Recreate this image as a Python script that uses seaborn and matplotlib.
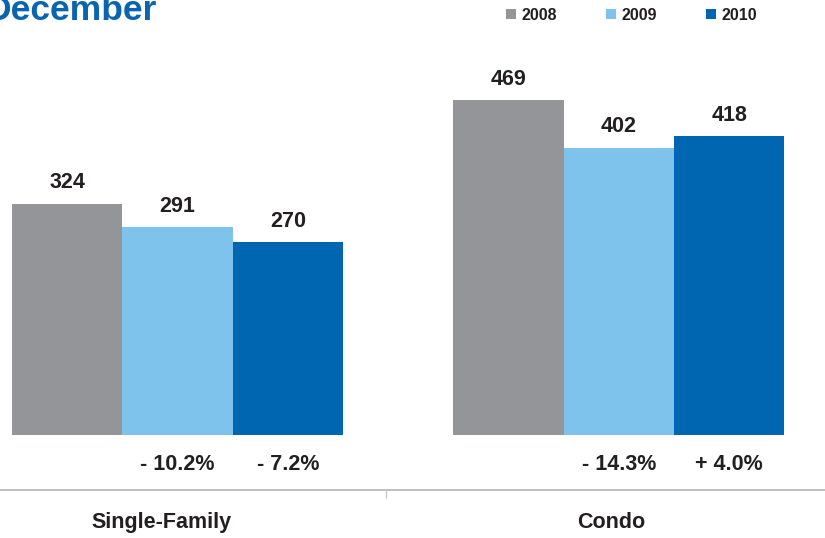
import pandas as pd
import matplotlib
matplotlib.use("Agg")
import matplotlib.pyplot as plt
import seaborn as sns
from matplotlib.patches import Patch

# Données
categories = ["Single-Family", "Condo"]
years = ["2008", "2009", "2010"]
values_2008 = [324, 469]
values_2009 = [291, 402]
values_2010 = [270, 418]
change_2009 = [-10.2, -14.3]
change_2010 = [-7.2, 4.0]

colors = ["#939598", "#7dc3eb", "#0066b2"]
text_color = "#231f20"

sns.set_style("white")
plt.rcParams["font.family"] = ["Liberation Sans", "DejaVu Sans"]

df = pd.DataFrame({
    "type": categories * 3,
    "year": [y for y in years for _ in categories],
    "value": values_2008 + values_2009 + values_2010,
})

fig = plt.figure(figsize=(8.25, 5.38), dpi=100)
ax = fig.add_axes([0, 48 / 538, 1, 490 / 538])

sns.barplot(data=df, x="type", y="value", hue="year", order=categories,
            hue_order=years, palette=colors, width=0.75, gap=0,
            saturation=1, legend=False, linewidth=0, ax=ax)

ax.set_xlim(-0.402, 1.467)
ax.set_ylim(-77, 609)

# valeurs au-dessus des barres
for cont in ax.containers:
    ax.bar_label(cont, fmt="%d", padding=7.5, fontsize=15.5,
                 fontweight="bold", color=text_color)

# variations sous les barres 2009 et 2010
def fmt_change(v):
    sign = "+" if v >= 0 else "-"
    return f"{sign} {abs(v):.1f}%"

for cont, changes in zip(ax.containers[1:], [change_2009, change_2010]):
    for bar, c in zip(cont, changes):
        ax.text(bar.get_x() + bar.get_width() / 2, -41, fmt_change(c),
                ha="center", va="center", fontsize=15.5,
                fontweight="bold", color=text_color)

for side in ["left", "right", "top"]:
    ax.spines[side].set_visible(False)
ax.spines["bottom"].set_color("#b4b4b4")
ax.spines["bottom"].set_linewidth(1.2)
ax.set_yticks([])
ax.set_xticks([])
ax.set_xlabel("")
ax.set_ylabel("")

# axe des catégories (un peu décalé dans l'original)
ax2 = ax.twiny()
ax2.set_xlim(-0.358, 1.476)
ax2.xaxis.set_ticks_position("bottom")
ax2.xaxis.set_label_position("bottom")
for side in ["left", "right", "top", "bottom"]:
    ax2.spines[side].set_visible(False)
ax2.set_xticks([0, 1])
ax2.set_xticklabels(categories, fontsize=15.5, fontweight="bold",
                    color=text_color)
ax2.tick_params(axis="x", length=0, pad=16)
ax2.set_xticks([0.5], minor=True)
ax2.tick_params(axis="x", which="minor", length=6, color="#c8c8c8",
                width=1, direction="out")

# titre
fig.text(-0.017, 1 - 19.5 / 538, "December", fontsize=25.5, fontweight="bold",
         color="#0a64b0", ha="left", va="baseline")

# légende
handles = [Patch(facecolor=c, edgecolor="none") for c in colors]
fig.legend(handles, years, loc="center left",
           bbox_to_anchor=(506 / 825, 1 - 15 / 538), ncol=3, frameon=False,
           handlelength=0.6, handleheight=0.6, handletextpad=0.35,
           columnspacing=3.1, borderaxespad=0, borderpad=0,
           prop={"weight": "bold", "size": 11.5}, labelcolor=text_color)

fig.savefig("out.png", dpi=100)
